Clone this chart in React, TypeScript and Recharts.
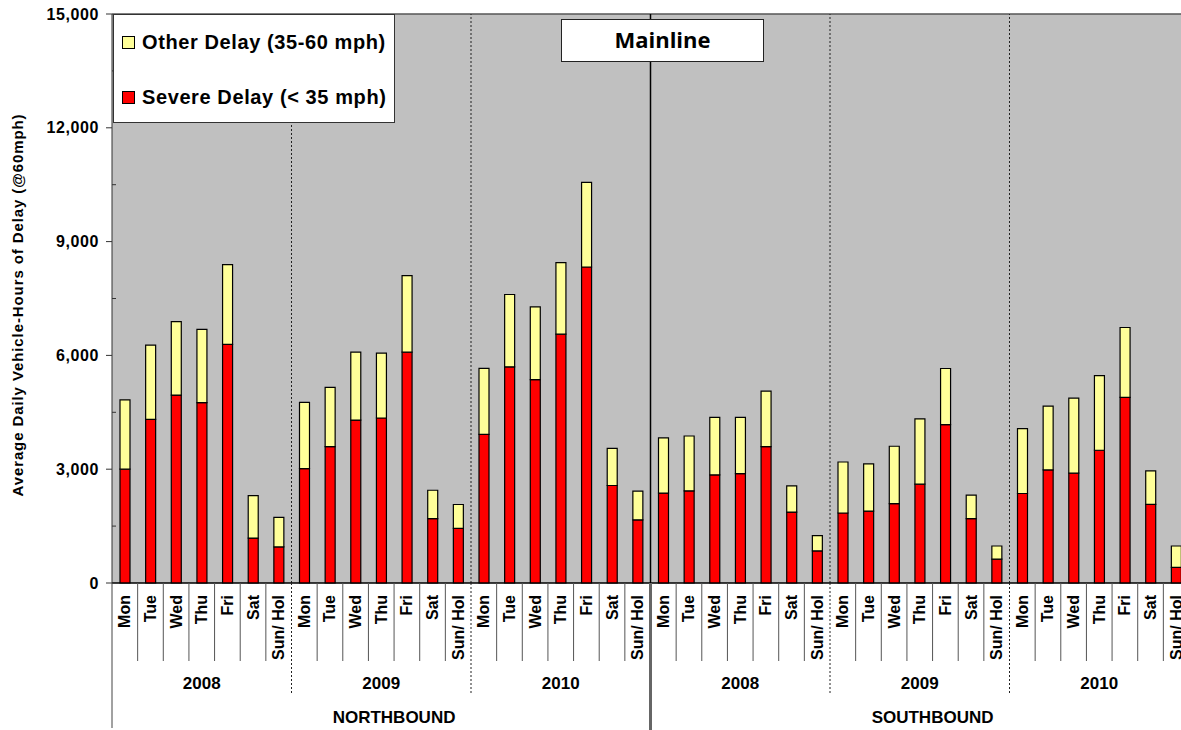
import React from "react";
import {
  BarChart,
  Bar,
  XAxis,
  YAxis,
  CartesianGrid,
  Legend,
  ReferenceLine,
  Label,
} from "recharts";

const days = ["Mon", "Tue", "Wed", "Thu", "Fri", "Sat", "Sun/ Hol"];
const years = ["2008", "2009", "2010"];
const directions = ["NORTHBOUND", "SOUTHBOUND"];

// severe delay (< 35 mph), NB 2008..2010 then SB 2008..2010, Mon..Sun/Hol
const severeDelay = [
  3000, 4315, 4955, 4755, 6290, 1185, 950,
  3015, 3595, 4295, 4350, 6085, 1695, 1440,
  3920, 5700, 5360, 6560, 8330, 2570, 1665,
  2370, 2430, 2850, 2885, 3595, 1870, 845,
  1845, 1895, 2095, 2605, 4175, 1695, 630,
  2360, 2980, 2895, 3500, 4895, 2075, 410,
];

// other delay (35-60 mph), same order
const otherDelay = [
  1830, 1955, 1935, 1930, 2105, 1120, 780,
  1745, 1560, 1790, 1710, 2020, 750, 630,
  1740, 1905, 1920, 1885, 2230, 980, 755,
  1455, 1445, 1515, 1480, 1465, 690, 405,
  1345, 1245, 1510, 1720, 1480, 620, 345,
  1710, 1685, 1980, 1965, 1840, 880, 565,
];

const yTicks = [0, 1500, 3000, 4500, 6000, 7500, 9000, 10500, 12000, 13500, 15000];
const gridTicks = [3000, 6000, 9000, 12000];

const data: any[] = [];
directions.forEach((dir, d) =>
  years.forEach((year, y) =>
    days.forEach((day, k) => {
      const i = d * 21 + y * 7 + k;
      data.push({
        key: `${dir}|${year}|${day}`,
        dir,
        year,
        day,
        severe: severeDelay[i],
        other: otherDelay[i],
      });
    })
  )
);

const FONT = "'Liberation Sans', Arial, sans-serif";

const CategoryTick = (props: any) => {
  const { x, y, payload, index } = props;
  const row = data[index];
  if (!row) return null;
  const half = payload && typeof payload.offset === "number" && payload.offset > 0 ? payload.offset : 12.8;
  const left = x - half;
  const k = index % 7;
  const isDir = index % 21 === 0;
  const isYear = k === 0;
  let sep;
  if (index === 0) {
    sep = <line x1={left} x2={left} y1={y} y2={y + 145} stroke="#444" strokeWidth={1} />;
  } else if (isDir) {
    sep = <line x1={left} x2={left} y1={y} y2={y + 147} stroke="#666" strokeWidth={3} />;
  } else if (isYear) {
    sep = <line x1={left} x2={left} y1={y} y2={y + 112} stroke="#222" strokeWidth={1} strokeDasharray="2 2" />;
  } else {
    sep = <line x1={left} x2={left} y1={y} y2={y + 78} stroke="#555" strokeWidth={1} />;
  }
  return (
    <g>
      {sep}
      <text
        transform={`translate(${x + 5.5},${y + 12}) rotate(-90)`}
        textAnchor="end"
        fontFamily={FONT}
        fontWeight="bold"
        fontSize={16}
        fill="#000"
      >
        {row.day}
      </text>
      {k === 3 && (
        <text x={x} y={y + 106} textAnchor="middle" fontFamily={FONT} fontWeight="bold" fontSize={17} fill="#000">
          {row.year}
        </text>
      )}
      {index % 21 === 10 && (
        <text x={x + half} y={y + 140} textAnchor="middle" fontFamily={FONT} fontWeight="bold" fontSize={17} fill="#000">
          {row.dir}
        </text>
      )}
    </g>
  );
};

const ValueTick = (props: any) => {
  const { x, y, payload } = props;
  const v = payload.value;
  if (v % 3000 !== 0) {
    return <line x1={x} x2={x + 4} y1={y} y2={y} stroke="#333" strokeWidth={1} />;
  }
  return (
    <g>
      <line x1={x - 6} x2={x} y1={y} y2={y} stroke="#333" strokeWidth={1} />
      <text
        x={x - 13}
        y={y + 5.5}
        textAnchor="end"
        fontFamily={FONT}
        fontWeight="bold"
        fontSize={16}
        letterSpacing={0.6}
        fill="#000"
      >
        {v.toLocaleString("en-US")}
      </text>
    </g>
  );
};

const YTitle = (props: any) => {
  const vb = props.viewBox || { x: 0, y: 14, width: 112, height: 569 };
  const cy = vb.y + vb.height / 2 + 6.5;
  return (
    <text
      transform={`translate(22.5,${cy}) rotate(-90)`}
      textAnchor="middle"
      fontFamily={FONT}
      fontWeight="bold"
      fontSize={15}
      letterSpacing={0.9}
      fill="#000"
    >
      Average Daily Vehicle-Hours of Delay (@60mph)
    </text>
  );
};

const LegendBox = (props: any) => {
  const items = [...(props.payload || [])].sort((a: any, b: any) =>
    a.dataKey === "other" ? -1 : b.dataKey === "other" ? 1 : 0
  );
  return (
    <div
      style={{
        width: 282,
        height: 109,
        boxSizing: "border-box",
        background: "#fff",
        border: "1px solid #333",
        position: "relative",
      }}
    >
      {items.map((it: any, i: number) => (
        <div
          key={it.value}
          style={{
            position: "absolute",
            left: 8,
            top: i === 0 ? 16 : 71,
            display: "flex",
            alignItems: "center",
            fontFamily: FONT,
            fontWeight: "bold",
            fontSize: 20,
            letterSpacing: 0.6,
            color: "#000",
            whiteSpace: "nowrap",
          }}
        >
          <span
            style={{
              display: "inline-block",
              width: 11,
              height: 11,
              background: it.color,
              border: "1px solid #000",
              marginRight: 7,
            }}
          />
          {it.value}
        </div>
      ))}
    </div>
  );
};

const groupStarts = [7, 14, 28, 35];

export default function App() {
  return (
    <div
      style={{
        position: "fixed",
        left: 0,
        top: 0,
        width: 1181,
        height: 730,
        overflow: "hidden",
        background: "#fff",
      }}
    >
      <div style={{ position: "relative", width: 1189, height: 730 }}>
        <BarChart
          width={1189}
          height={730}
          data={data}
          margin={{ top: 14, right: 0, left: 0, bottom: 0 }}
          barSize={10}
        >
          <CartesianGrid yAxisId="grid" vertical={false} fill="#C0C0C0" stroke="#000" strokeWidth={1} />
          <XAxis
            dataKey="key"
            height={147}
            interval={0}
            tickLine={false}
            tickSize={0}
            tickMargin={0}
            axisLine={{ stroke: "#000" }}
            tick={<CategoryTick />}
          />
          <YAxis
            yAxisId="val"
            type="number"
            width={112}
            domain={[0, 15000]}
            ticks={yTicks}
            interval={0}
            tickLine={false}
            tickSize={0}
            tickMargin={0}
            axisLine={{ stroke: "#333" }}
            tick={<ValueTick />}
          >
            <Label content={<YTitle />} />
          </YAxis>
          <YAxis
            yAxisId="grid"
            orientation="right"
            width={0}
            hide
            type="number"
            domain={[0, 15000]}
            ticks={gridTicks}
          />
          <ReferenceLine yAxisId="val" y={15000} stroke="#808080" strokeWidth={1} />
          {groupStarts.map((i) => (
            <ReferenceLine
              key={i}
              yAxisId="val"
              x={data[i].key}
              position="start"
              stroke="#222"
              strokeDasharray="2 2"
            />
          ))}
          <ReferenceLine yAxisId="val" x={data[21].key} position="start" stroke="#000" strokeWidth={1.5} />
          <Bar
            yAxisId="val"
            dataKey="severe"
            name="Severe Delay (< 35 mph)"
            stackId="a"
            fill="#FF0000"
            stroke="#000"
            strokeWidth={1.2}
            isAnimationActive={false}
          />
          <Bar
            yAxisId="val"
            dataKey="other"
            name="Other Delay (35-60 mph)"
            stackId="a"
            fill="#FFFF99"
            stroke="#000"
            strokeWidth={1.2}
            isAnimationActive={false}
          />
          <Legend
            layout="vertical"
            align="center"
            verticalAlign="middle"
            content={<LegendBox />}
            wrapperStyle={{ left: 113, top: 14, width: 282, height: 109 }}
          />
        </BarChart>
        <div
          style={{
            position: "absolute",
            left: 561,
            top: 19,
            width: 203,
            height: 43,
            boxSizing: "border-box",
            border: "1px solid #222",
            background: "#fff",
            display: "flex",
            alignItems: "center",
            justifyContent: "center",
            fontFamily: "'Open Sans', sans-serif",
            fontWeight: 700,
            fontSize: 22,
            color: "#000",
            paddingBottom: 4,
          }}
        >
          Mainline
        </div>
      </div>
    </div>
  );
}
